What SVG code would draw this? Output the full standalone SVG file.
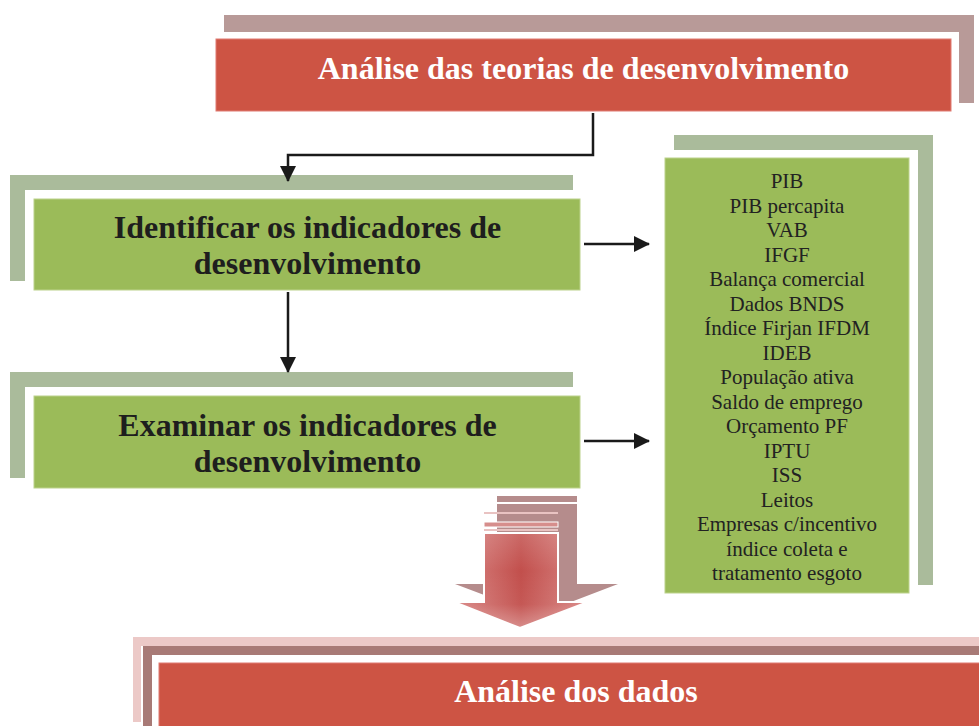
<svg xmlns="http://www.w3.org/2000/svg" width="979" height="726" viewBox="0 0 979 726">
  <defs>
    <style>
      .red { fill: #cd5444; stroke: #e07b72; stroke-width: 1; }
      .green { fill: #9bbb59; stroke: #bcd28c; stroke-width: 1; }
      .gshadow { fill: #aabb9b; }
      .rshadow { fill: #b89a98; }
      .title { font-family: "Liberation Serif", "Times New Roman", serif; font-weight: bold; font-size: 32px; text-anchor: middle; }
      .white { fill: #ffffff; }
      .dark { fill: #1e1e1e; }
      .list { font-family: "Liberation Serif", "Times New Roman", serif; font-size: 21px; fill: #222222; text-anchor: middle; }
      .conn { fill: none; stroke: #1a1a1a; stroke-width: 2.5; }
    </style>
    <marker id="arrow" markerUnits="userSpaceOnUse" markerWidth="16" markerHeight="16" refX="15" refY="8" orient="auto">
      <path d="M0,0 L16,8 L0,16 Z" fill="#1a1a1a"/>
    </marker>
    <linearGradient id="arrowGrad" x1="0" y1="0" x2="1" y2="0">
      <stop offset="0" stop-color="#d98886"/>
      <stop offset="0.5" stop-color="#c24f4c"/>
      <stop offset="1" stop-color="#d98886"/>
    </linearGradient>
    <linearGradient id="arrowFade" x1="0" y1="0" x2="0" y2="1">
      <stop offset="0" stop-color="#ffffff" stop-opacity="0.15"/>
      <stop offset="0.4" stop-color="#ffffff" stop-opacity="0"/>
      <stop offset="0.75" stop-color="#ffffff" stop-opacity="0.05"/>
      <stop offset="1" stop-color="#ffffff" stop-opacity="0.35"/>
    </linearGradient>
  </defs>

  <g id="node-analise-teorias">
    <path class="rshadow" d="M224,15 H974 V103 H959 V32 H224 Z"/>
    <rect class="red" x="216" y="39" width="735" height="72"/>
    <text class="title white" x="583.5" y="79">Análise das teorias de desenvolvimento</text>
  </g>

  <g id="node-identificar">
    <path class="gshadow" d="M10,175 H573 V190 H25 V281 H10 Z"/>
    <rect class="green" x="34" y="199" width="546" height="91"/>
    <text class="title dark" x="307.5" y="238">Identificar os indicadores de</text>
    <text class="title dark" x="307.5" y="274">desenvolvimento</text>
  </g>

  <g id="node-examinar">
    <path class="gshadow" d="M10,372 H573 V387 H25 V478 H10 Z"/>
    <rect class="green" x="34" y="396" width="546" height="92"/>
    <text class="title dark" x="307.5" y="436">Examinar os indicadores de</text>
    <text class="title dark" x="307.5" y="472">desenvolvimento</text>
  </g>

  <g id="node-indicadores">
    <path class="gshadow" d="M674,135 H933 V585 H918 V150 H674 Z"/>
    <rect class="green" x="665" y="158" width="244" height="435"/>
    <text class="list" x="787" y="188.3">PIB</text>
    <text class="list" x="787" y="212.8">PIB percapita</text>
    <text class="list" x="787" y="237.3">VAB</text>
    <text class="list" x="787" y="261.7">IFGF</text>
    <text class="list" x="787" y="286.2">Balança comercial</text>
    <text class="list" x="787" y="310.7">Dados BNDS</text>
    <text class="list" x="787" y="335.2">Índice Firjan IFDM</text>
    <text class="list" x="787" y="359.7">IDEB</text>
    <text class="list" x="787" y="384.1">População ativa</text>
    <text class="list" x="787" y="408.6">Saldo de emprego</text>
    <text class="list" x="787" y="433.1">Orçamento PF</text>
    <text class="list" x="787" y="457.6">IPTU</text>
    <text class="list" x="787" y="482.1">ISS</text>
    <text class="list" x="787" y="506.5">Leitos</text>
    <text class="list" x="787" y="531">Empresas c/incentivo</text>
    <text class="list" x="787" y="555.5">índice coleta e</text>
    <text class="list" x="787" y="580">tratamento esgoto</text>
  </g>

  <g id="node-big-arrow">
    <rect x="497" y="496" width="80" height="6" fill="#b58c8c"/>
    <rect x="497" y="504" width="80" height="5" fill="#b58c8c"/>
    <path d="M497,509 H577 V584 H618 L537,615 L455,584 H497 Z" fill="#b58c8c"/>
    <rect x="484" y="512" width="74" height="2" fill="#e9c3c2"/>
    <rect x="484" y="522" width="74" height="5" fill="#d68e8c" stroke="#ffffff" stroke-width="1"/>
    <rect x="484" y="529" width="74" height="2" fill="#e9c3c2"/>
    <path d="M484,533 H558 V602 H588 L520,628 L454,602 H484 Z" fill="url(#arrowGrad)" stroke="#ffffff" stroke-width="2"/>
    <path d="M484,533 H558 V602 H588 L520,628 L454,602 H484 Z" fill="url(#arrowFade)"/>
  </g>

  <g id="node-analise-dados">
    <path d="M133,637 H979 V646 H141 V722 H133 Z" fill="#ecc9c7"/>
    <path d="M143,646 H979 V655 H152 V726 H143 Z" fill="#a87a76"/>
    <rect class="red" x="159" y="663" width="830" height="70"/>
    <text class="title white" x="576" y="702">Análise dos dados</text>
  </g>

  <g id="connectors">
    <path class="conn" d="M593,113 V155 H288 V181" marker-end="url(#arrow)"/>
    <path class="conn" d="M288,292 V372" marker-end="url(#arrow)"/>
    <path class="conn" d="M584,244 H649" marker-end="url(#arrow)"/>
    <path class="conn" d="M584,441 H649" marker-end="url(#arrow)"/>
  </g>
</svg>
